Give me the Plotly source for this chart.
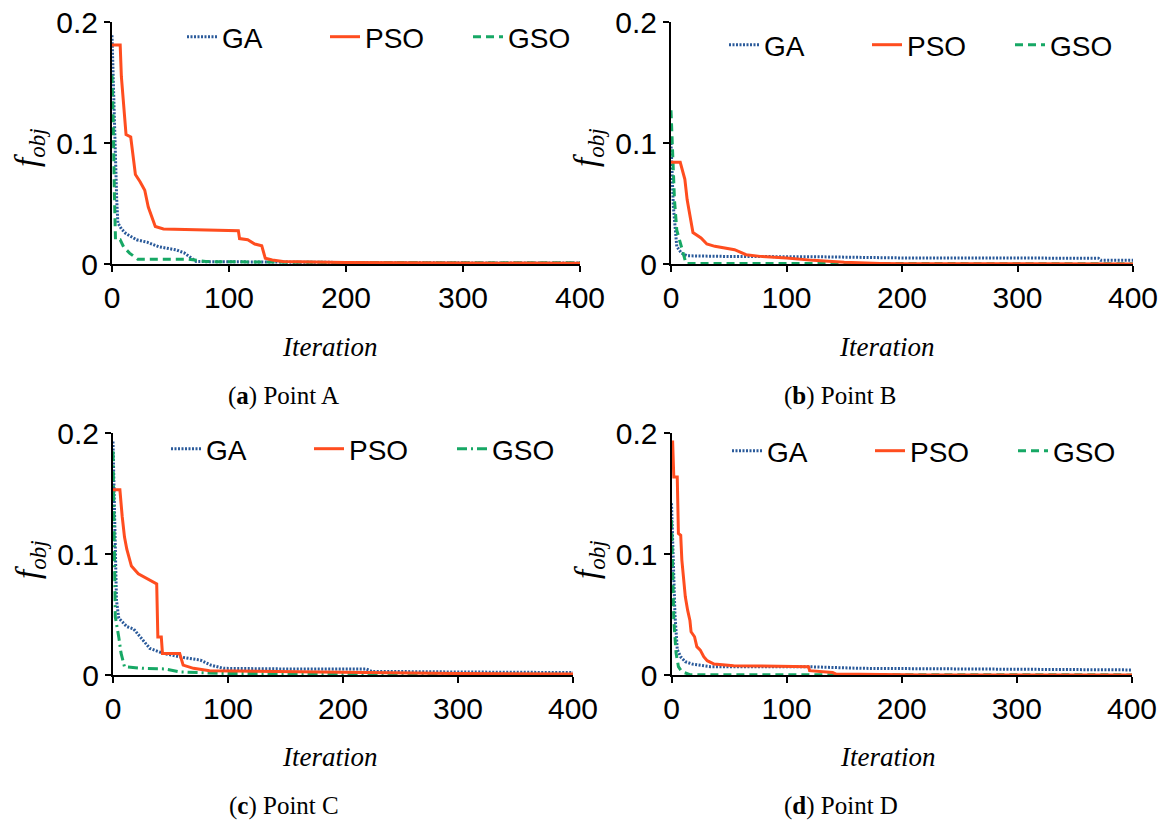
import plotly.graph_objects as go

# ---------------- data ----------------
iters_A_GA = [0, 1, 3, 4, 5, 8, 12, 21, 30, 40, 55, 62, 72, 150, 250, 400]
vals_A_GA = [0.189, 0.15, 0.086, 0.054, 0.034, 0.029, 0.025, 0.020, 0.018, 0.0143, 0.0116, 0.009, 0.002, 0.0015, 0.001, 0.0008]
iters_A_PSO = [0, 7, 8, 10, 12, 16, 18, 20, 24, 28, 31, 34, 37, 44, 108, 109, 116, 122, 128, 131, 137, 146, 200, 300, 400]
vals_A_PSO = [0.181, 0.181, 0.155, 0.130, 0.107, 0.105, 0.089, 0.074, 0.068, 0.061, 0.047, 0.039, 0.031, 0.029, 0.0275,
              0.021, 0.020, 0.0165, 0.015, 0.0047, 0.0033, 0.002, 0.0012, 0.0008, 0.0006]
iters_A_GSO = [0, 1, 2, 3, 7, 10, 15, 22, 65, 80, 200, 400]
vals_A_GSO = [0.156, 0.12, 0.06, 0.020, 0.020, 0.014, 0.009, 0.004, 0.004, 0.002, 0.0012, 0.001]

iters_B_GA = [0, 1, 2, 5, 9, 14, 50, 125, 200, 370, 372, 400]
vals_B_GA = [0.100, 0.08, 0.048, 0.0145, 0.009, 0.0068, 0.0062, 0.006, 0.005, 0.0048, 0.003, 0.003]
iters_B_PSO = [0, 8, 12, 14, 19, 26, 31, 38, 55, 65, 77, 100, 123, 150, 181, 200, 400]
vals_B_PSO = [0.084, 0.084, 0.070, 0.053, 0.026, 0.0215, 0.0165, 0.0146, 0.0118, 0.0077, 0.0063, 0.005, 0.003, 0.0015,
              0.0005, 0.0002, 0.0001]
iters_B_GSO = [0, 1, 3, 5, 9, 13, 400]
vals_B_GSO = [0.127, 0.10, 0.053, 0.028, 0.013, 0.0005, 0.0002]

iters_C_GA = [0, 1, 2, 3, 5, 12, 18, 24, 32, 44, 58, 76, 85, 96, 150, 220, 225, 300, 400]
vals_C_GA = [0.193, 0.15, 0.10, 0.062, 0.047, 0.040, 0.038, 0.0315, 0.022, 0.0178, 0.015, 0.0123, 0.0082, 0.0055,
             0.005, 0.005, 0.003, 0.0025, 0.002]
iters_C_PSO = [0, 6, 8, 10, 12, 16, 22, 32, 38, 39, 42, 43, 58, 61, 70, 84, 150, 200, 300, 400]
vals_C_PSO = [0.153, 0.153, 0.131, 0.114, 0.104, 0.090, 0.0836, 0.078, 0.0753, 0.0315, 0.0315, 0.0178, 0.0178,
              0.0082, 0.0055, 0.0036, 0.003, 0.002, 0.0012, 0.0008]
iters_C_GSO = [0, 1, 2, 5, 7, 10, 26, 45, 58, 100, 200, 400]
vals_C_GSO = [0.185, 0.12, 0.048, 0.0315, 0.018, 0.0068, 0.0055, 0.005, 0.0025, 0.0012, 0.0008, 0.0005]

iters_D_GA = [0, 1, 2, 3, 5, 8, 12, 19, 34, 120, 165, 250, 400]
vals_D_GA = [0.142, 0.11, 0.075, 0.05, 0.021, 0.015, 0.011, 0.0088, 0.0069, 0.0068, 0.0055, 0.005, 0.0042]
iters_D_PSO = [0, 1, 2, 5, 6, 8, 9, 11, 12, 14, 16, 17, 20, 22, 25, 28, 31, 37, 54, 119, 120, 140, 143, 221, 400]
vals_D_PSO = [0.1925, 0.1925, 0.1636, 0.1636, 0.117, 0.1155, 0.095, 0.078, 0.0646, 0.0536, 0.045, 0.0357, 0.0316,
              0.0234, 0.0206, 0.0151, 0.0118, 0.009, 0.0077, 0.0069, 0.0036, 0.002, 0.0008, 0.0001, 0.0001]
iters_D_GSO = [0, 1, 2, 4, 6, 9, 16, 400]
vals_D_GSO = [0.128, 0.09, 0.045, 0.018, 0.0069, 0.0027, 0.0003, 0.0001]

series_names = ["GA", "PSO", "GSO"]
x_ticks = [0, 100, 200, 300, 400]
y_ticks = [0, 0.1, 0.2]
y_tick_text = ["0", "0.1", "0.2"]
captions = [("a", "Point A"), ("b", "Point B"), ("c", "Point C"), ("d", "Point D")]

# ---------------- styling ----------------
W, H = 1170, 820
C_GA = "#2a5a9a"
C_PSO = "#ff4d1f"
C_GSO = "#17a865"
SANS = "Liberation Sans, Arial, sans-serif"
SERIF = "Liberation Serif, Times New Roman, serif"
TICK_SIZE = 30

# panel pixel boxes: (x_left, x_right, y_top, y_bottom)
boxes = [(112, 580, 22, 264), (671, 1133, 22, 264), (113, 573, 433, 675), (671.5, 1132, 433, 675)]

data = {
    0: [(iters_A_GA, vals_A_GA), (iters_A_PSO, vals_A_PSO), (iters_A_GSO, vals_A_GSO)],
    1: [(iters_B_GA, vals_B_GA), (iters_B_PSO, vals_B_PSO), (iters_B_GSO, vals_B_GSO)],
    2: [(iters_C_GA, vals_C_GA), (iters_C_PSO, vals_C_PSO), (iters_C_GSO, vals_C_GSO)],
    3: [(iters_D_GA, vals_D_GA), (iters_D_PSO, vals_D_PSO), (iters_D_GSO, vals_D_GSO)],
}
gso_dash = ["8px,5px", "8px,5px", "10px,4px,2px,4px", "8px,5px"]

fig = go.Figure()
layout = dict(
    width=W, height=H, margin=dict(l=0, r=0, t=0, b=0, autoexpand=False),
    paper_bgcolor="white", plot_bgcolor="white",
    font=dict(family=SANS, size=28, color="black"),
)
annotations = []

for i in range(4):
    xl, xr, yt, yb = boxes[i]
    ax = "" if i == 0 else str(i + 1)
    leg = "legend" if i == 0 else "legend" + str(i + 1)
    styles = [
        dict(color=C_GA, width=3, dash="2px,1.5px"),
        dict(color=C_PSO, width=3),
        dict(color=C_GSO, width=3, dash=gso_dash[i]),
    ]
    order = [0, 2, 1]  # draw PSO on top
    for k in order:
        xs, ys = data[i][k]
        fig.add_trace(go.Scatter(
            x=xs, y=ys, mode="lines", name=series_names[k], line=styles[k],
            xaxis="x" + ax, yaxis="y" + ax, legend=leg, legendrank=k + 1,
        ))
    layout["xaxis" + ax] = dict(
        domain=[xl / W, xr / W], anchor="y" + ax, range=[0, 400], automargin=False,
        tickvals=x_ticks, showline=True, linecolor="black", linewidth=2,
        ticks="outside", ticklen=6, tickwidth=2, tickcolor="black",
        showgrid=False, zeroline=False, tickfont=dict(size=TICK_SIZE, family=SANS),
    )
    layout["yaxis" + ax] = dict(
        domain=[1 - yb / H, 1 - yt / H], anchor="x" + ax, range=[0, 0.2], automargin=False,
        tickvals=y_ticks, ticktext=y_tick_text, showline=True, linecolor="black", linewidth=2,
        ticks="outside", ticklen=6, tickwidth=2, tickcolor="black",
        showgrid=False, zeroline=False, tickfont=dict(size=TICK_SIZE, family=SANS),
    )
    legend_pos = [(182, 37), (724, 45), (166, 449), (727, 451)][i]
    layout[leg] = dict(
        orientation="h", x=legend_pos[0] / W, y=1 - legend_pos[1] / H,
        xanchor="left", yanchor="middle", bgcolor="rgba(0,0,0,0)",
        font=dict(size=28, family=SANS), traceorder="normal",
        entrywidth=98, entrywidthmode="pixels",
    )
    # axis titles and captions
    x_title_pos = [(330, 347), (887, 347), (330, 757), (888, 757)][i]
    y_title_pos = [(30, 148), (589, 148), (30, 560), (589, 560)][i]
    cap_pos = [(283, 396), (840, 396), (284, 806), (841, 806)][i]
    annotations.append(dict(
        text="<i>Iteration</i>", x=x_title_pos[0] / W, y=1 - x_title_pos[1] / H,
        xref="paper", yref="paper", showarrow=False, xanchor="center", yanchor="middle",
        font=dict(family=SERIF, size=27, color="black"),
    ))
    annotations.append(dict(
        text="<i>f</i><sub><i>obj</i></sub>", x=y_title_pos[0] / W, y=1 - y_title_pos[1] / H,
        xref="paper", yref="paper", showarrow=False, xanchor="center", yanchor="middle",
        textangle=-90, font=dict(family=SERIF, size=33, color="black"),
    ))
    letter, label = captions[i]
    annotations.append(dict(
        text="(<b>" + letter + "</b>) " + label, x=cap_pos[0] / W, y=1 - cap_pos[1] / H,
        xref="paper", yref="paper", showarrow=False, xanchor="center", yanchor="middle",
        font=dict(family=SERIF, size=25, color="black"),
    ))

layout["annotations"] = annotations
fig.update_layout(**layout)
fig.write_html("out.html")
